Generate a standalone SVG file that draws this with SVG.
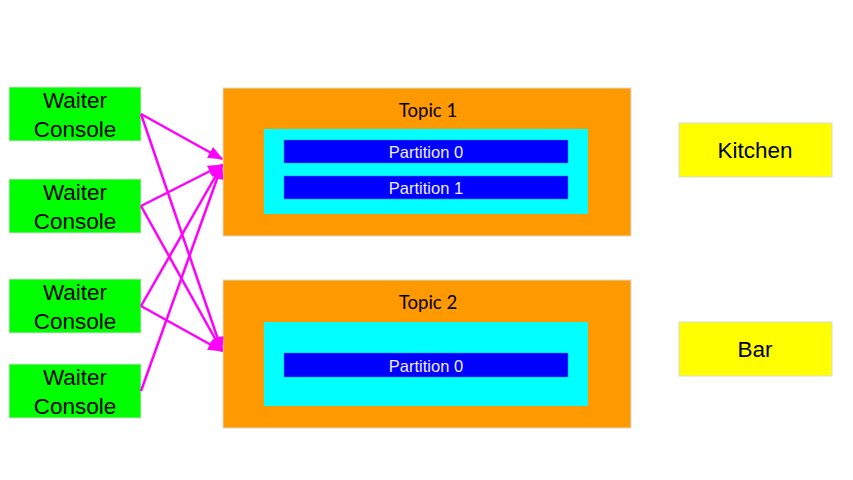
<svg xmlns="http://www.w3.org/2000/svg" width="853" height="480" viewBox="0 0 853 480">
<style>
.wc{fill:#00ff00;stroke:#d9d9d9;stroke-width:1}
.yl{fill:#ffff00;stroke:#d9d9d9;stroke-width:1}
.tp{fill:#ff9900;stroke:#d9d9d9;stroke-width:1}
.cy{fill:#00ffff}
.pt{fill:#0000ff;stroke:#3c78d8;stroke-width:0.5}
.t{font-family:"Liberation Sans",Arial,sans-serif;font-size:22.5px;fill:#000;text-anchor:middle}
.tt{font-family:Lato,"Liberation Sans",sans-serif;font-size:18.5px;fill:#000;text-anchor:middle}
.pp{font-family:"Liberation Sans",Arial,sans-serif;font-size:16.5px;fill:#eeeeff;text-anchor:middle}
.c{stroke:#ff00ff;stroke-width:2.5;fill:none;marker-end:url(#ah)}
</style>
<defs>
<marker id="ah" viewBox="0 0 12 10" refX="11" refY="5" markerWidth="6" markerHeight="5" orient="auto" markerUnits="strokeWidth">
<path d="M0,0 L12,5 L0,10 z" fill="#ff00ff"/>
</marker>
</defs>
<rect width="853" height="480" fill="#ffffff"/>
<g id="waiter1"><rect class="wc" x="9" y="87" width="132" height="54"/><text class="t" x="75" y="108">Waiter</text><text class="t" x="75" y="137">Console</text></g>
<g id="waiter2"><rect class="wc" x="9" y="179" width="132" height="54"/><text class="t" x="75" y="200">Waiter</text><text class="t" x="75" y="229">Console</text></g>
<g id="waiter3"><rect class="wc" x="9" y="279" width="132" height="54"/><text class="t" x="75" y="300">Waiter</text><text class="t" x="75" y="329">Console</text></g>
<g id="waiter4"><rect class="wc" x="9" y="364" width="132" height="54"/><text class="t" x="75" y="385">Waiter</text><text class="t" x="75" y="414">Console</text></g>
<g id="topic1">
<rect class="tp" x="223" y="88" width="408" height="148"/>
<text class="tt" x="428" y="117">Topic 1</text>
<rect class="cy" x="264" y="129" width="324" height="85"/>
<rect class="pt" x="284" y="140" width="284" height="23"/>
<text class="pp" x="426" y="158">Partition 0</text>
<rect class="pt" x="284" y="176" width="284" height="23"/>
<text class="pp" x="426" y="194">Partition 1</text>
</g>
<g id="topic2">
<rect class="tp" x="223" y="280" width="408" height="148"/>
<text class="tt" x="428" y="309">Topic 2</text>
<rect class="cy" x="264" y="322" width="324" height="84"/>
<rect class="pt" x="284" y="353" width="284" height="24"/>
<text class="pp" x="426" y="372">Partition 0</text>
</g>
<g id="kitchen"><rect class="yl" x="679" y="123" width="153" height="54"/><text class="t" x="755" y="158">Kitchen</text></g>
<g id="bar"><rect class="yl" x="679" y="322" width="153" height="54"/><text class="t" x="755" y="357">Bar</text></g>
<g id="connectors">
<line class="c" x1="141" y1="114" x2="222" y2="159"/>
<line class="c" x1="141" y1="114" x2="222" y2="351"/>
<line class="c" x1="141" y1="206" x2="222" y2="165"/>
<line class="c" x1="141" y1="206" x2="222" y2="351"/>
<line class="c" x1="141" y1="306" x2="222" y2="165"/>
<line class="c" x1="141" y1="306" x2="222" y2="351"/>
<line class="c" x1="141" y1="391" x2="222" y2="165"/>
</g>
</svg>
